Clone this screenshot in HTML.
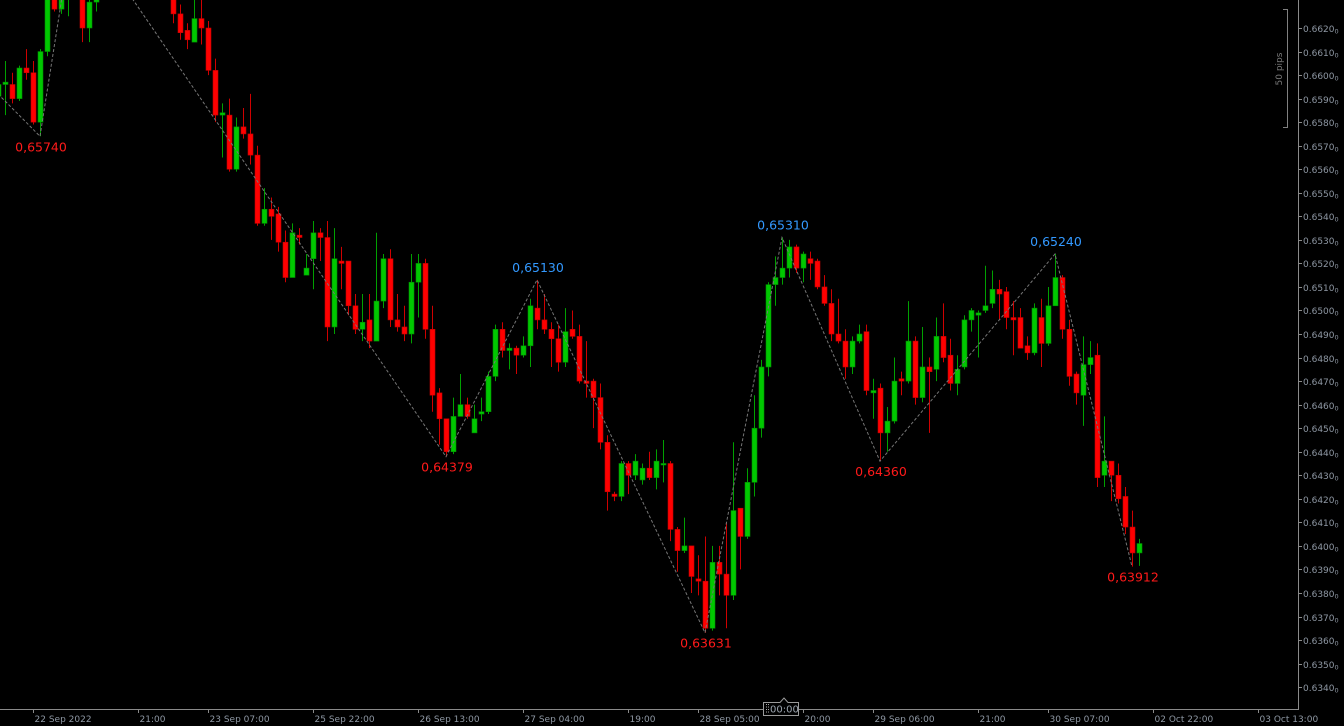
<!DOCTYPE html>
<html><head><meta charset="utf-8">
<style>
html,body{margin:0;padding:0;background:#000;}
#wrap{position:relative;width:1344px;height:726px;overflow:hidden;background:#000;}
svg{display:block}
</style></head>
<body>
<div id="wrap">
<svg id="chart" width="1344" height="726" xmlns="http://www.w3.org/2000/svg"></svg>
</div>
<script>
const opens = [.6591,.6596,.6596,.6590,.6603,.6601,.6580,.6610,.6634,.6628,.6634,.6638,.6634,.6620,.6631,.6634,.6645,.6640,.6651,.6647,.6653,.6645,.6638,.6643,.6636,.6633,.6626,.6619,.6614,.6624,.6620,.6602,.6583,.6583,.6560,.6578,.6575,.6566,.6537,.6543,.6541,.6529,.6514,.6532,.6515,.6522,.6533,.6531,.6493,.6521,.6521,.6502,.6492,.6496,.6487,.6504,.6522,.6496,.6493,.6490,.6512,.6520,.6492,.6465,.6454,.6440,.6455,.6460,.6448,.6456,.6457,.6472,.6492,.6483,.6484,.6481,.6485,.6501,.6496,.6492,.6488,.6478,.6492,.6489,.6470,.6470,.6463,.6444,.6422,.6421,.6435,.6430,.6428,.6433,.6429,.6435,.6435,.6407,.6398,.6400,.6386,.6385,.6365,.6393,.6388,.6379,.6416,.6404,.6427,.6450,.6476,.6511,.6514,.6518,.6527,.6518,.6522,.6521,.6510,.6503,.6490,.6487,.6476,.6487,.6491,.6465,.6467,.6448,.6453,.6471,.6470,.6487,.6463,.6476,.6475,.6489,.6481,.6469,.6476,.6496,.6498,.6500,.6503,.6509,.6508,.6497,.6497,.6485,.6482,.6497,.6486,.6502,.6514,.6492,.6473,.6464,.6477,.6481,.6430,.6436,.6430,.6421,.6408,.6397];
const highs = [.6597,.6606,.6601,.6604,.6611,.6606,.6611,.6636,.6634,.6634,.6640,.6668,.6636,.6634,.6636,.6649,.6651,.6655,.6657,.6657,.6655,.6649,.6647,.6645,.6640,.6636,.6630,.6622,.6632,.6632,.6623,.6607,.6588,.6590,.6582,.6586,.6592,.6570,.6552,.6548,.6544,.6534,.6537,.6535,.6524,.6538,.6535,.6538,.6535,.6527,.6521,.6507,.6507,.6507,.6533,.6524,.6526,.6507,.6502,.6524,.6524,.6522,.6502,.6467,.6454,.6463,.6473,.6463,.6460,.6463,.6474,.6494,.6495,.6486,.6485,.6489,.6505,.6513,.6507,.6495,.6494,.6501,.6500,.6494,.6487,.6471,.6469,.6447,.6423,.6436,.6436,.6439,.6435,.6440,.6441,.6445,.6436,.6408,.6412,.6400,.6396,.6404,.6400,.6400,.6410,.6444,.6416,.6433,.6464,.6479,.6512,.6523,.6531,.6530,.6528,.6525,.6525,.6522,.6515,.6509,.6505,.6492,.6489,.6494,.6494,.6471,.6469,.6459,.6480,.6474,.6504,.6489,.6493,.6480,.6497,.6503,.6488,.6481,.6498,.6501,.6500,.6519,.6517,.6513,.6510,.6504,.6501,.6489,.6503,.6505,.6510,.6524,.6515,.6496,.6474,.6489,.6487,.6486,.6455,.6436,.6435,.6425,.6415,.6403];
const lows = [.6589,.6583,.6588,.6589,.6598,.6579,.6574,.6608,.6627,.6626,.6625,.6634,.6614,.6614,.6627,.6633,.6637,.6638,.6643,.6645,.6643,.6635,.6635,.6634,.6633,.6622,.6615,.6611,.6614,.6613,.6600,.6580,.6565,.6559,.6559,.6573,.6562,.6536,.6536,.6530,.6525,.6512,.6514,.6528,.6515,.6509,.6521,.6487,.6490,.6509,.6498,.6490,.6487,.6484,.6487,.6501,.6493,.6491,.6487,.6486,.6497,.6488,.6457,.6443,.64379,.6439,.6455,.6454,.6448,.6453,.6456,.6470,.6480,.6475,.6473,.6480,.6476,.6492,.6490,.6476,.6474,.6476,.6488,.6469,.6463,.6450,.6441,.6415,.6419,.6419,.6422,.6428,.6426,.6428,.6424,.6427,.6402,.6389,.6397,.6380,.6379,.63631,.6364,.6379,.6365,.6377,.6390,.6403,.6421,.6446,.6472,.6502,.6511,.6514,.6516,.6512,.6513,.6509,.6502,.6487,.6486,.6471,.6473,.6486,.6464,.6454,.6436,.6440,.6452,.6464,.6469,.6460,.6461,.6448,.6470,.6478,.6466,.6464,.6475,.6491,.6480,.6499,.6501,.6496,.6492,.6481,.6484,.6479,.6481,.6476,.6485,.6502,.6488,.6468,.6460,.6451,.6473,.6425,.6425,.6419,.6418,.6405,.63912,.63915];
const closes = [.6596,.6597,.6590,.6603,.6601,.6580,.6610,.6634,.6628,.6632,.6638,.6649,.6620,.6631,.6634,.6645,.6640,.6651,.6647,.6653,.6645,.6638,.6643,.6636,.6634,.6626,.6618,.6615,.6624,.6620,.6602,.6583,.6584,.6560,.6578,.6575,.6566,.6537,.6543,.6540,.6529,.6514,.6533,.6531,.6518,.6533,.6531,.6493,.6522,.6520,.6502,.6492,.6495,.6487,.6504,.6522,.6496,.6493,.6490,.6512,.6520,.6492,.6464,.6454,.6440,.6455,.6460,.6455,.6454,.6457,.6472,.6492,.6483,.6484,.6481,.6485,.6502,.6496,.6492,.6488,.6478,.6491,.6489,.6470,.6469,.6463,.6444,.6423,.6421,.6435,.6430,.6436,.6433,.6429,.6436,.6435,.6407,.6398,.6400,.6387,.6385,.6365,.6393,.6388,.6379,.6415,.6404,.6427,.6450,.6476,.6511,.6514,.6518,.6527,.6518,.6524,.6520,.6510,.6503,.6490,.6487,.6476,.6487,.6490,.6466,.6466,.6448,.6453,.6470,.6470,.6487,.6463,.6476,.6474,.6489,.6480,.6469,.6475,.6496,.6500,.6499,.6502,.6509,.6507,.6497,.6496,.6484,.6482,.6501,.6486,.6502,.6514,.6492,.6472,.6465,.6477,.6480,.6429,.6436,.6430,.6420,.6408,.6397,.6401];

const zzIndex = [0,6,11,64,77,101,112,126,151,162];
const zzPrice = [0.6592,0.6574,0.6668,0.64379,0.6513,0.63631,0.6531,0.6436,0.6524,0.63912];
const zzKind = ['none','low','high','low','high','low','high','low','high','low'];

const yTicks = [0.6620,0.6610,0.6600,0.6590,0.6580,0.6570,0.6560,0.6550,0.6540,0.6530,0.6520,0.6510,0.6500,0.6490,0.6480,0.6470,0.6460,0.6450,0.6440,0.6430,0.6420,0.6410,0.6400,0.6390,0.6380,0.6370,0.6360,0.6350,0.6340];
const xTickIndex = [5,20,30,45,60,75,90,100,110,115,125,140,150,165,180];
const xTickLabels = ['22 Sep 2022','21:00','23 Sep 07:00','25 Sep 22:00','26 Sep 13:00','27 Sep 04:00','19:00','28 Sep 05:00','','20:00','29 Sep 06:00','21:00','30 Sep 07:00','02 Oct 22:00','03 Oct 13:00'];

const NS = 'http://www.w3.org/2000/svg';
const svg = document.getElementById('chart');
function yScale(p){ return 28 + (0.6620 - p) * 23540; }
function xScale(i){ return -2 + 7 * i; }
function mk(tag, attrs, parent){
  const e = document.createElementNS(NS, tag);
  for (const k in attrs) e.setAttribute(k, attrs[k]);
  (parent || svg).appendChild(e);
  return e;
}

const candles = mk('g', {});


for (let i = 0; i < opens.length; i++){
  const up = closes[i] >= opens[i];
  const col = up ? '#00c800' : '#ff0000';
  const edge = up ? '#008a00' : '#c00000';
  const x = xScale(i);
  const g = mk('g', {}, candles);
  
  
  mk('line', {x1: x + 0.5, x2: x + 0.5, y1: yScale(highs[i]), y2: yScale(lows[i]), stroke: up ? '#00a000' : '#d00000', 'stroke-width': 1}, g);
  const top = yScale(Math.max(opens[i], closes[i]));
  const bot = yScale(Math.min(opens[i], closes[i]));
  mk('rect', {x: x - 2, y: top, width: 5, height: Math.max(1.5, bot - top), fill: col, stroke: edge, 'stroke-width': 0.6}, g);
}

let pts = zzIndex.map((idx, k) => xScale(idx) + ',' + yScale(zzPrice[k])).join(' ');
const zz = mk('polyline', {points: pts, fill: 'none', stroke: '#767676', 'stroke-width': 1, 'stroke-dasharray': '3,2'});


for (let k = 0; k < zzIndex.length; k++){
  if (zzKind[k] === 'none') continue;
  const isLow = zzKind[k] === 'low';
  const t = mk('text', {x: xScale(zzIndex[k]) + 1, y: isLow ? yScale(zzPrice[k]) + 15 : yScale(zzPrice[k]) - 8, 'text-anchor': 'middle', fill: isLow ? '#ff1a1a' : '#3399ff', 'font-family': 'DejaVu Sans, sans-serif', 'font-size': 12.5});
  t.textContent = zzPrice[k].toFixed(5).replace('.', ',');
  
  
}

const axCol = '#8a8a8a';
const yAxis = mk('line', {x1: 1298.5, x2: 1298.5, y1: 0, y2: 709.5, stroke: axCol, 'stroke-width': 1});


const xAxis = mk('line', {x1: 0, x2: 1299, y1: 709.5, y2: 709.5, stroke: axCol, 'stroke-width': 1});



for (let k = 0; k < yTicks.length; k++){
  const y = Math.round(yScale(yTicks[k])) + 0.5;
  mk('line', {x1: 1298, x2: 1302, y1: y, y2: y, stroke: axCol});
  const t = mk('text', {x: 1303, y: y + 3.5, fill: '#8e97a3', 'font-family': 'DejaVu Sans, sans-serif', 'font-size': 9});
  t.textContent = yTicks[k].toFixed(4);
  const s = mk('tspan', {'font-size': 6.5, dy: 1.5}, t);
  s.textContent = '0';
  
  
}

for (let k = 0; k < xTickIndex.length; k++){
  const x = Math.round(xScale(xTickIndex[k])) + 0.5;
  mk('line', {x1: x, x2: x, y1: 709, y2: 713, stroke: axCol});
  if (!xTickLabels[k]) continue;
  const t = mk('text', {x: x + 1, y: 722, fill: '#8e97a3', 'font-family': 'DejaVu Sans, sans-serif', 'font-size': 9});
  t.textContent = xTickLabels[k];
  
  
}

const box = mk('g', {});


mk('path', {d: 'M763.5,702.5 H780 L784,698 L788,702.5 H798.5 V715.5 H763.5 Z', fill: '#000', stroke: '#9a9a9a', 'stroke-width': 1}, box);
for (let r = 0; r < 4; r++){ mk('rect', {x: 766, y: 704 + r * 2.5, width: 1, height: 1, fill: '#aaa'}, box); mk('rect', {x: 768, y: 704 + r * 2.5, width: 1, height: 1, fill: '#aaa'}, box); }
const bt = mk('text', {x: 770, y: 712.5, fill: '#9aa3ad', 'font-family': 'DejaVu Sans, sans-serif', 'font-size': 10}, box);
bt.textContent = '00:00';

const ruler = mk('g', {});


mk('path', {d: 'M1283,9.5 H1287.5 V127.5 H1283', fill: 'none', stroke: '#808080', 'stroke-width': 1}, ruler);
const rt = mk('text', {x: 0, y: 0, fill: '#7a7a7a', 'font-family': 'DejaVu Sans, sans-serif', 'font-size': 9, 'text-anchor': 'middle', transform: 'translate(1282,69) rotate(-90)'}, ruler);
rt.textContent = '50 pips';
</script>
</body></html>
